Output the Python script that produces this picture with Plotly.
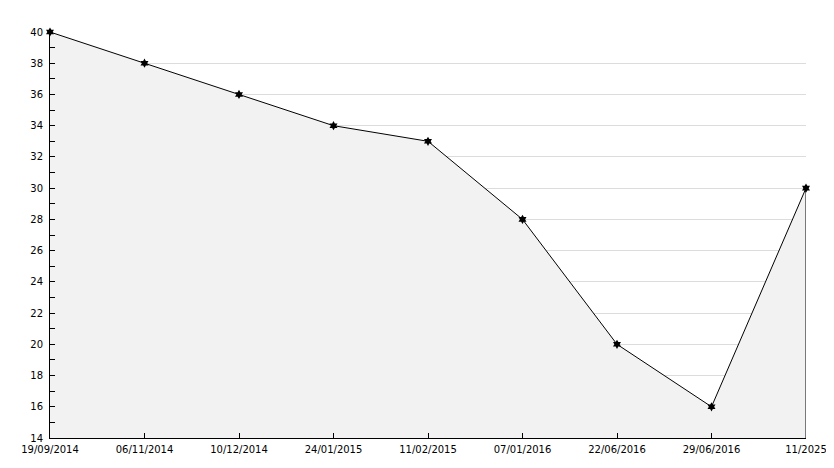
import plotly.graph_objects as go

dates = ["19/09/2014", "06/11/2014", "10/12/2014", "24/01/2015", "11/02/2015",
         "07/01/2016", "22/06/2016", "29/06/2016", "11/2025"]
values = [40, 38, 36, 34, 33, 28, 20, 16, 30]
y_min, y_max = 14, 40

fig = go.Figure()
# grey area under the line
fig.add_trace(go.Scatter(
    x=dates, y=values, mode="none", fill="tozeroy",
    fillcolor="#f2f2f2", hoverinfo="skip", showlegend=False,
))
fig.add_trace(go.Scatter(
    x=dates, y=values, mode="lines+markers",
    line=dict(color="black", width=1),
    marker=dict(symbol="hexagram", size=7, color="black"),
    showlegend=False, cliponaxis=False,
))

# right edge of the filled area
fig.add_shape(type="line", xref="x", yref="y",
              x0=dates[-1], x1=dates[-1], y0=y_min, y1=values[-1],
              line=dict(color="black", width=1))

# page body has an 8px margin, so the figure is a bit smaller than the window
fig.update_layout(
    width=826, height=460,
    margin=dict(l=42, r=28, t=24, b=30),
    plot_bgcolor="white", paper_bgcolor="white",
    font=dict(family="DejaVu Sans", size=10, color="black"),
)
fig.update_xaxes(
    type="category", range=[0, len(dates) - 1], automargin=False,
    showgrid=False, showline=True, linecolor="black", linewidth=1,
    ticks="inside", ticklen=5, tickcolor="black",
    ticklabelstandoff=2, zeroline=False,
)
fig.update_yaxes(
    range=[y_min, y_max], dtick=2, tick0=0, automargin=False,
    showgrid=True, gridcolor="#dcdcdc", gridwidth=1,
    showline=True, linecolor="black", linewidth=1,
    ticks="inside", ticklen=5, tickcolor="black",
    minor=dict(dtick=1, ticks="inside", ticklen=5, tickcolor="black", showgrid=False),
    ticklabelstandoff=4, zeroline=False,
)

fig.write_html("out.html")
